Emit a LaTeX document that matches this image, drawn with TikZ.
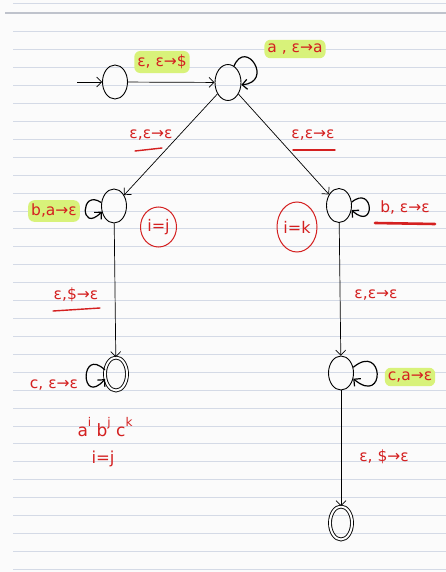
\documentclass[tikz,border=0pt]{standalone}
\usepackage{fontspec}
\setmainfont{DejaVu Sans}
\usetikzlibrary{shapes.geometric,arrows.meta}
\definecolor{inkred}{RGB}{212,32,32}
\definecolor{hilite}{RGB}{216,242,122}
\definecolor{rule}{RGB}{212,218,230}
\definecolor{paper}{RGB}{251,251,251}
\tikzset{
  state/.style={ellipse,draw,line width=0.9pt,minimum width=25,minimum height=34,inner sep=0pt},
  accept/.style={state,double,double distance=2pt,minimum width=22,minimum height=33},
  edge/.style={draw,line width=0.7pt,-{Straight Barb[length=5pt,width=10pt]}},
  loopedge/.style={draw,line width=1.2pt,-{Straight Barb[length=5pt,width=10pt]}},
  lbl/.style={text=inkred,font=\fontsize{15.5}{17}\selectfont,inner sep=2pt},
  hl/.style={lbl,fill=hilite,rounded corners=6pt,inner xsep=3pt,inner ysep=4pt},
  uline/.style={inkred,line width=1.4pt,line cap=round},
  ring/.style={ellipse,draw=inkred,line width=1pt,text=inkred,inner sep=0pt,font=\fontsize{16}{18}\selectfont},
  ruleline/.style={rule,line width=0.8pt}
}
\begin{document}
\begin{tikzpicture}[x=1pt,y=-1pt]
\useasboundingbox (0,0) rectangle (446,572);
\fill[paper] (0,0) rectangle (446,572);
% ruled paper
\draw[ruleline] (13,3) -- (446,3);
\draw[rule!75!gray,line width=1.3pt] (5,13) -- (446,13);
\foreach \k in {0,...,30} \draw[ruleline] (13,31.7+17.92*\k) -- (446,31.7+17.92*\k);
% states
\node[state] (q0) at (115,82) {};
\node[state,minimum width=26,minimum height=36] (q1) at (228,82.5) {};
\node[state] (q2) at (114,206) {};
\node[state] (q3) at (339,205.5) {};
\node[accept] (q4) at (116,374) {};
\node[state] (q5) at (341,373) {};
\node[accept] (q6) at (341,523) {};
\coordinate (init) at (77,82);
% transitions
\draw[edge] (init) -- (q0);
\draw[edge] (q0) -- (q1);
\draw[edge] (q1) -- (q2);
\draw[edge] (q1) -- (q3);
\draw[edge] (q2) -- (q4);
\draw[edge] (q3) -- (q5);
\draw[edge] (q5) -- (q6);
% self loops
\draw[loopedge] (q1.70) .. controls (246,38) and (274,82) .. (q1.-10);
\draw[loopedge] (q2.165) .. controls (80,188) and (80,234) .. (q2.205);
\draw[loopedge] (q3.15) .. controls (374,184) and (376,232) .. (q3.-20);
\draw[loopedge] (q4.160) .. controls (80,346) and (80,407) .. (q4.205);
\draw[loopedge] (q5.25) .. controls (384,342) and (386,406) .. (q5.-25);
% labels
\node[hl] (l01) at (162,62) {ε, ε→\$};
\node[hl] (l11) at (295,49) {a , ε→a};
\node[lbl] (l12) at (151,135) {ε,ε→ε};
\draw[uline] (135,151) -- (162,148);
\node[lbl] (l13) at (313,135) {ε,ε→ε};
\draw[uline] (293,150) -- (335,150);
\node[hl] (l22) at (54,211) {b,a→ε};
\node[lbl] (l33) at (405,208) {b, ε→ε};
\draw[uline,line width=2.6pt] (375,223) -- (435,224);
\node[lbl] (l24) at (76,295) {ε,\$→ε};
\draw[uline] (53,311) -- (100,308);
\node[lbl] (l44) at (54,385) {c, ε→ε};
\node[lbl] (l35) at (376,295) {ε,ε→ε};
\node[hl] (l55) at (410,377) {c,a→ε};
\node[lbl] (l56) at (384,457) {ε, \$→ε};
% notes
\node[ring,minimum width=36,minimum height=40] (nij) at (158.5,227) {i=j};
\node[ring,minimum width=40,minimum height=50] (nik) at (297,227) {i=k};
\node[lbl,font=\fontsize{17}{19}\selectfont] (lang) at (105,427) {a\raisebox{1.1ex}{\fontsize{12}{13}\selectfont i} b\raisebox{1.1ex}{\fontsize{12}{13}\selectfont j} c\raisebox{1.1ex}{\fontsize{12}{13}\selectfont k}};
\node[lbl,font=\fontsize{16.5}{18}\selectfont] (cond) at (103,459) {i=j};
\end{tikzpicture}
\end{document}
